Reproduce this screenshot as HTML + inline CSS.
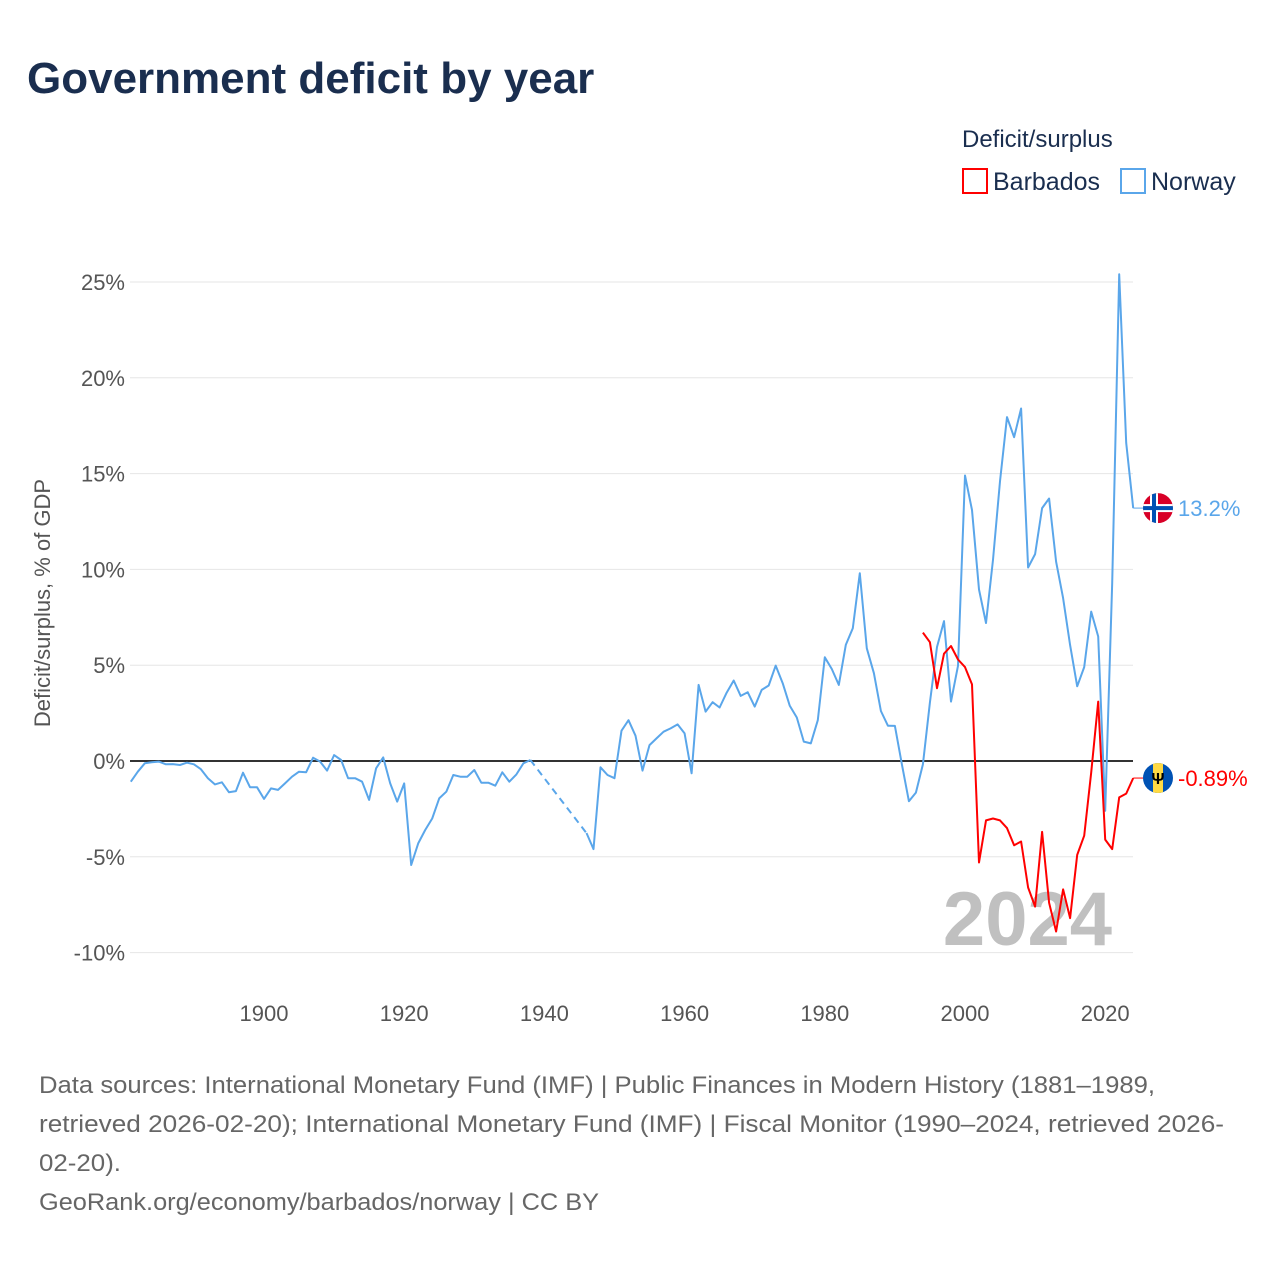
<!DOCTYPE html>
<html><head><meta charset="utf-8"><style>
body{margin:0;background:#fff;font-family:"Liberation Sans",sans-serif}
svg{display:block}
</style></head><body>
<svg id="chart" width="1280" height="1280" viewBox="0 0 1280 1280">
<rect width="1280" height="1280" fill="#fff"/>
<text x="27" y="93" font-size="44" font-weight="bold" fill="#1a2e4f">Government deficit by year</text>
<g>
<text x="962" y="147" font-size="24" fill="#1a2e4f">Deficit/surplus</text>
<g><rect x="963" y="169" width="24" height="24" fill="none" stroke="#ff0000" stroke-width="2"/><text x="993" y="190" font-size="25" fill="#1a2e4f">Barbados</text></g>
<g><rect x="1121" y="169" width="24" height="24" fill="none" stroke="#5aa6ea" stroke-width="2"/><text x="1151" y="190" font-size="25" fill="#1a2e4f">Norway</text></g>
</g>
<g id="grid"></g>
<g id="yticks"></g>
<g id="xticks"></g>
<text transform="translate(50,603) rotate(-90)" text-anchor="middle" font-size="22" fill="#555">Deficit/surplus, % of GDP</text>
<text x="1112" y="945" text-anchor="end" font-size="76" font-weight="bold" fill="#c0c0c0">2024</text>
<g id="series"></g>
<g id="ends"></g>
<g font-size="24" fill="#666">
<text x="39" y="1093" textLength="1116" lengthAdjust="spacingAndGlyphs">Data sources: International Monetary Fund (IMF) | Public Finances in Modern History (1881–1989,</text>
<text x="39" y="1132" textLength="1185" lengthAdjust="spacingAndGlyphs">retrieved 2026-02-20); International Monetary Fund (IMF) | Fiscal Monitor (1990–2024, retrieved 2026-</text>
<text x="39" y="1171" textLength="82" lengthAdjust="spacingAndGlyphs">02-20).</text>
<text x="39" y="1210" textLength="560" lengthAdjust="spacingAndGlyphs">GeoRank.org/economy/barbados/norway | CC BY</text>
</g>
</svg>
<script>
const yTicks=[25,20,15,10,5,0,-5,-10];
const yTickLabels=["25%","20%","15%","10%","5%","0%","-5%","-10%"];
const xTicks=[1900,1920,1940,1960,1980,2000,2020];
const norwayStart=1881;
const norwayValues=[-1.08,-0.56,-0.12,-0.07,-0.03,-0.17,-0.16,-0.21,-0.09,-0.17,-0.43,-0.9,-1.22,-1.11,-1.63,-1.57,-0.61,-1.37,-1.37,-1.98,-1.43,-1.51,-1.17,-0.82,-0.56,-0.59,0.17,-0.03,-0.5,0.31,0.05,-0.9,-0.9,-1.08,-2.03,-0.38,0.19,-1.17,-2.12,-1.17,-5.43,-4.3,-3.6,-3.0,-1.95,-1.6,-0.73,-0.82,-0.82,-0.47,-1.13,-1.13,-1.29,-0.59,-1.08,-0.7,-0.12,0.05,
null,null,null,null,null,null,null,-3.76,-4.6,-0.33,-0.73,-0.9,1.58,2.13,1.32,-0.5,0.83,1.18,1.53,1.7,1.91,1.44,-0.64,3.97,2.58,3.07,2.79,3.57,4.2,3.4,3.59,2.84,3.71,3.94,4.98,4.06,2.89,2.27,1.01,0.92,2.13,5.41,4.8,3.97,6.06,6.93,9.8,5.88,4.58,2.61,1.84,
1.83,-0.18,-2.1,-1.65,-0.18,3.05,5.95,7.3,3.1,4.97,14.9,13.1,8.95,7.2,10.5,14.6,17.95,16.9,18.4,10.1,10.8,13.2,13.7,10.4,8.5,6.05,3.9,4.9,7.8,6.5,-2.6,9.3,25.4,16.6,13.2];
const barbadosStart=1994;
const barbadosValues=[6.7,6.2,3.8,5.6,6.0,5.3,4.9,4.0,-5.3,-3.1,-3.0,-3.1,-3.5,-4.4,-4.2,-6.6,-7.6,-3.7,-7.4,-8.9,-6.7,-8.2,-4.9,-3.9,-0.6,3.1,-4.1,-4.6,-1.9,-1.7,-0.89];
const endLabels=["13.2%","-0.89%"];

const NS="http://www.w3.org/2000/svg";
const X=yr=>130.8+(yr-1881)*7.01;
const Y=v=>761-v*19.16;
function mk(tag,attrs,parent){const e=document.createElementNS(NS,tag);for(const k in attrs)e.setAttribute(k,attrs[k]);parent.appendChild(e);return e;}
const grid=document.getElementById('grid'),yt=document.getElementById('yticks'),xt=document.getElementById('xticks');
yTicks.forEach((t,i)=>{
 const l=mk('line',{x1:130,x2:1133,y1:Y(t),y2:Y(t),stroke:t===0?'#333':'#e6e6e6','stroke-width':t===0?2:1},grid);
 
 
 const tx=mk('text',{x:125,y:Y(t)+8,'text-anchor':'end','font-size':22,fill:'#555'},yt);
 tx.textContent=yTickLabels[i];
 
 
});
xTicks.forEach(t=>{
 const tx=mk('text',{x:X(t),y:1021,'text-anchor':'middle','font-size':22,fill:'#555'},xt);
 tx.textContent=t;
 
 
});
const ser=document.getElementById('series');
function drawSeries(start,vals,color,name){
 const g=mk('g',{},ser);
 
 
 let d='',pen=false,lastPt=null,gapFrom=null;
 vals.forEach((v,i)=>{
  if(v===null){if(pen){gapFrom=lastPt;}pen=false;return;}
  const p=[X(start+i),Y(v)];
  if(!pen&&gapFrom){
   const dl=mk('line',{x1:gapFrom[0],y1:gapFrom[1],x2:p[0],y2:p[1],stroke:color,'stroke-width':2,'stroke-dasharray':'7,5'},g);
   
   
   gapFrom=null;
  }
  d+=(pen?'L':'M')+p[0].toFixed(1)+' '+p[1].toFixed(1);
  pen=true;lastPt=p;
 });
 mk('path',{d:d,fill:'none',stroke:color,'stroke-width':2,'stroke-linejoin':'round'},g);
 return lastPt;
}
const nEnd=drawSeries(norwayStart,norwayValues,'#5aa6ea','norway');
const bEnd=drawSeries(barbadosStart,barbadosValues,'#ff0000','barbados');
const ends=document.getElementById('ends');
function endLabel(pt,color,label,name,flag){
 const g=mk('g',{},ends);
 
 
 mk('line',{x1:pt[0],y1:pt[1],x2:1143,y2:pt[1],stroke:color,'stroke-width':1},g);
 const cx=1158,cy=pt[1];
 const cp='c'+name;
 const clip=mk('clipPath',{id:cp},g);mk('circle',{cx:cx,cy:cy,r:15},clip);
 const fg=mk('g',{'clip-path':'url(#'+cp+')'},g);
 
 
 flag(fg,cx,cy);
 const t=mk('text',{x:1178,y:cy+8,'font-size':22,fill:color},g);
 t.textContent=label;
}
endLabel(nEnd,'#5aa6ea',endLabels[0],'norway',(g,cx,cy)=>{
 mk('rect',{x:cx-15,y:cy-15,width:30,height:30,fill:'#d80027'},g);
 mk('rect',{x:cx-15,y:cy-4,width:30,height:8,fill:'#fff'},g);
 mk('rect',{x:cx-8,y:cy-15,width:8,height:30,fill:'#fff'},g);
 mk('rect',{x:cx-15,y:cy-2,width:30,height:4,fill:'#0052b4'},g);
 mk('rect',{x:cx-6,y:cy-15,width:4,height:30,fill:'#0052b4'},g);
});
endLabel(bEnd,'#ff0000',endLabels[1],'barbados',(g,cx,cy)=>{
 mk('rect',{x:cx-15,y:cy-15,width:30,height:30,fill:'#0052b4'},g);
 mk('rect',{x:cx-5,y:cy-15,width:10,height:30,fill:'#ffda44'},g);
 const t=mk('text',{x:cx,y:cy+6,'text-anchor':'middle','font-size':16,'font-weight':'bold',fill:'#000'},g);
 t.textContent='Ψ';
});
</script>
</body></html>
